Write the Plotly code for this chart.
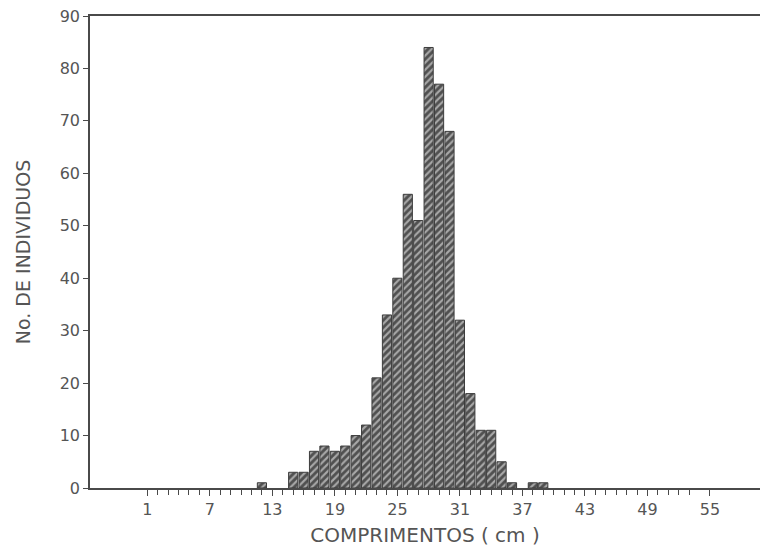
import plotly.graph_objects as go

# Length classes (cm) and number of individuals in each class
comprimentos = [12, 15, 16, 17, 18, 19, 20, 21, 22, 23, 24, 25, 26, 27, 28,
                29, 30, 31, 32, 33, 34, 35, 36, 38, 39]
individuos = [1, 3, 3, 7, 8, 7, 8, 10, 12, 21, 33, 40, 56, 51, 84,
              77, 68, 32, 18, 11, 11, 5, 1, 1, 1]

# Axis ticks
x_tick_vals = [1, 7, 13, 19, 25, 31, 37, 43, 49, 55]
x_minor_vals = list(range(1, 54))
y_tick_vals = [0, 10, 20, 30, 40, 50, 60, 70, 80, 90]

ink = "#4a4a4a"
text_col = "#555555"
font_family = "DejaVu Sans, Verdana, sans-serif"

fig = go.Figure(
    go.Bar(
        x=comprimentos,
        y=individuos,
        marker=dict(
            color="#505050",
            line=dict(color="#3c3c3c", width=1),
            pattern=dict(shape="/", fgcolor="#ffffff", size=5,
                         solidity=0.42, fillmode="overlay"),
        ),
        hoverinfo="x+y",
    )
)

fig.update_layout(
    width=764,
    height=555,
    margin=dict(l=90, r=4, t=16, b=67),
    paper_bgcolor="white",
    plot_bgcolor="white",
    bargap=0.12,
    showlegend=False,
    font=dict(family=font_family, color=text_col, size=16),
)

fig.update_xaxes(
    range=[-4.5, 59.8],
    tickmode="array",
    tickvals=x_tick_vals,
    ticktext=[str(v) for v in x_tick_vals],
    ticks="outside",
    ticklen=6,
    tickwidth=1,
    tickcolor=ink,
    minor=dict(tickmode="array", tickvals=x_minor_vals, ticks="outside",
               ticklen=5, tickwidth=1, tickcolor=ink),
    showline=True,
    linecolor=ink,
    linewidth=1.5,
    mirror=True,
    showgrid=False,
    zeroline=False,
    tickfont=dict(size=16, color=text_col),
    title=dict(text="COMPRIMENTOS ( cm )", font=dict(size=20, color=text_col),
               standoff=10),
)

fig.update_yaxes(
    range=[0, 90],
    tickmode="array",
    tickvals=y_tick_vals,
    ticks="outside",
    ticklen=5,
    tickwidth=1,
    tickcolor=ink,
    showline=True,
    linecolor=ink,
    linewidth=1.5,
    showgrid=False,
    zeroline=False,
    tickfont=dict(size=16, color=text_col),
    title=dict(text="No. DE INDIVIDUOS", font=dict(size=19, color=text_col),
               standoff=24),
)

fig.write_html("out.html")
